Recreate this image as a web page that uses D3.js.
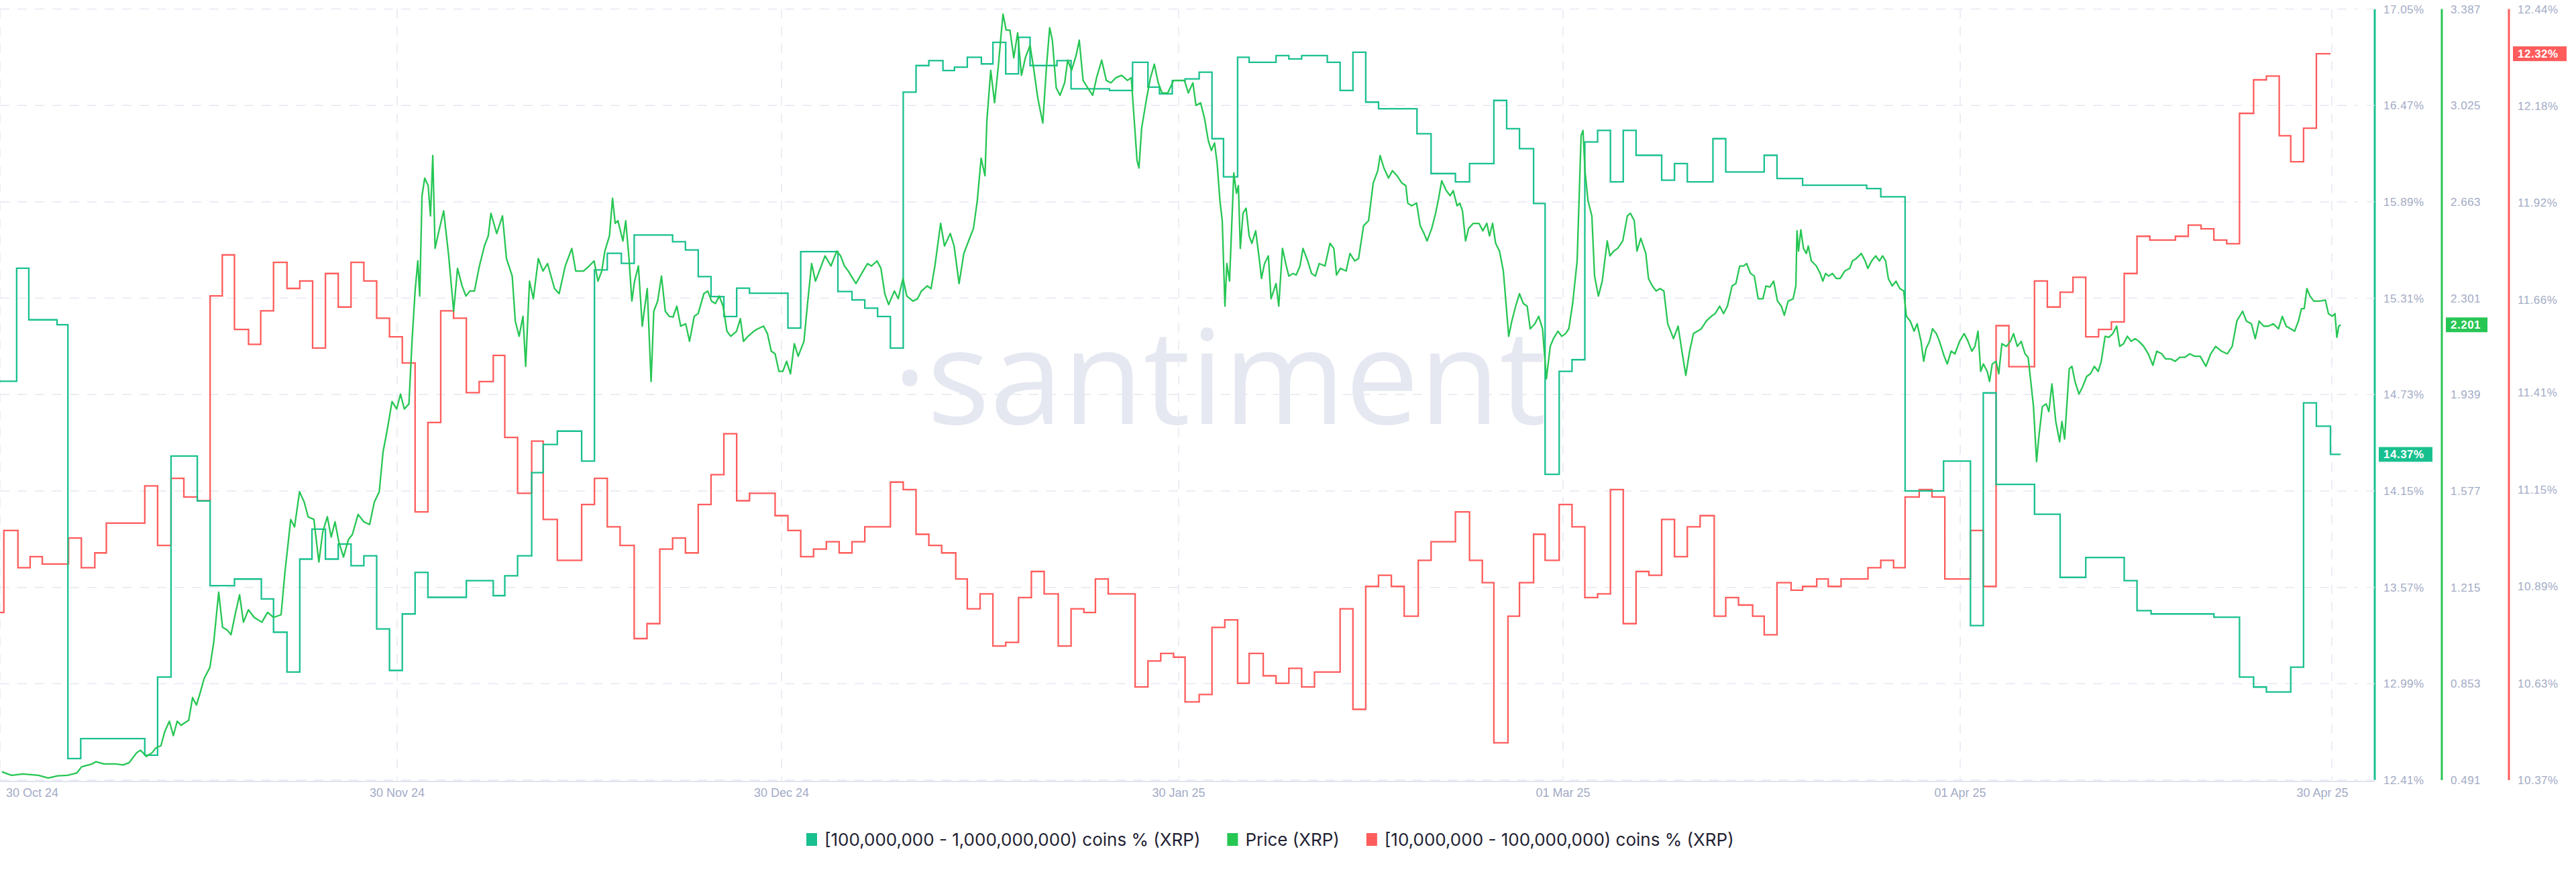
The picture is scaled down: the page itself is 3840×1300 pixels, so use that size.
<!DOCTYPE html>
<html><head><meta charset="utf-8">
<script src="https://cdn.jsdelivr.net/npm/d3@7/dist/d3.min.js"></script>
<style>body{margin:0;background:#fff}svg{display:block}</style>
</head><body><svg id="c" width="3840" height="1300"></svg>
<script>
const startDate = "2024-10-30";
const tickDates = ["2024-10-30","2024-11-30","2024-12-30","2025-01-30","2025-03-01","2025-04-01","2025-04-30"];
const tickLabels = ["30 Oct 24","30 Nov 24","30 Dec 24","30 Jan 25","01 Mar 25","01 Apr 25","30 Apr 25"];
const tealTicks = [12.41,12.99,13.57,14.15,14.73,15.31,15.89,16.47,17.05];
const priceTicks = [0.491,0.853,1.215,1.577,1.939,2.301,2.663,3.025,3.387];
const redTicks = [10.37,10.63,10.89,11.15,11.41,11.66,11.92,12.18,12.44];
const seriesNames = ["[100,000,000 - 1,000,000,000) coins % (XRP)","Price (XRP)","[10,000,000 - 100,000,000) coins % (XRP)"];

// day offsets from startDate, value
const tealDays = [0,1.3,2.25,4.45,5.3,6.3,11.3,12.3,13.35,15.4,16.4,18.3,20.4,21.35,22.4,23.4,24.35,25.4,26.4,27.4,28.4,29.4,30.4,31.4,32.4,33.4,36.4,38.5,39.4,40.4,41.5,42.4,43.5,45.4,46.4,47.4,48.5,49.5,52.5,53.5,54.5,55.5,56.5,57.5,58.5,61.5,62.5,65.4,66.5,67.5,68.5,69.5,70.5,71.5,72.5,73.6,74.5,75.5,76.6,77.5,78.5,79.5,80.4,82.5,83.6,86.6,88.4,89.6,90.5,91.5,92.5,93.6,94.6,95.5,96.6,97.5,99.6,100.6,101.6,103.6,104.6,105.6,106.6,107.6,110.6,111.7,113.6,114.7,116.6,117.6,118.6,119.7,120.6,121.7,122.7,123.7,124.7,125.7,126.7,127.7,129.7,130.7,131.7,133.7,134.7,137.7,138.7,140.7,145.7,146.8,148.7,151.7,153.8,154.8,155.8,158.8,160.8,162.8,165.8,166.8,167.9,172.8,174.8,175.9,176.9,178.8,179.8,180.8,181.9,182.7];
const tealVals = [14.81,15.49,15.18,15.15,12.54,12.66,12.56,13.03,14.36,14.09,13.58,13.62,13.50,13.30,13.06,13.74,13.92,13.74,13.83,13.70,13.76,13.32,13.07,13.41,13.66,13.51,13.61,13.52,13.64,13.76,14.26,14.43,14.51,14.33,15.48,15.58,15.52,15.69,15.65,15.60,15.44,15.32,15.20,15.37,15.34,15.13,15.59,15.35,15.30,15.25,15.20,15.01,16.55,16.71,16.74,16.68,16.70,16.76,16.72,16.85,16.66,16.88,16.71,16.74,16.57,16.56,16.73,16.58,16.54,16.62,16.63,16.67,16.27,16.04,16.76,16.73,16.77,16.75,16.77,16.73,16.56,16.79,16.49,16.45,16.30,16.06,16.01,16.12,16.50,16.33,16.21,15.88,14.25,14.87,14.94,16.25,16.32,16.01,16.32,16.17,16.02,16.12,16.01,16.27,16.07,16.17,16.03,15.99,15.97,15.92,14.15,14.33,13.34,14.74,14.19,14.01,13.63,13.75,13.61,13.43,13.41,13.39,13.03,12.97,12.94,13.09,14.68,14.54,14.37,14.37];

const redDays = [0,0.3,1.4,2.35,3.3,5.35,6.35,7.4,8.3,9.3,10.4,11.3,12.3,13.35,14.35,15.4,16.4,17.35,18.3,19.4,20.35,21.35,22.4,23.4,24.4,25.4,26.4,27.4,28.4,29.4,30.4,31.4,32.4,33.4,34.4,35.4,36.4,37.4,38.5,39.4,40.4,41.5,42.4,43.5,45.4,46.4,47.4,48.4,49.5,50.5,51.5,52.5,53.5,54.5,55.5,56.5,57.5,58.5,60.5,61.5,62.5,63.5,64.5,65.5,66.5,67.5,69.5,70.5,71.5,72.5,73.5,74.6,75.5,76.5,77.5,78.5,79.5,80.5,81.5,82.6,83.6,84.6,85.5,86.5,88.6,89.6,90.6,91.6,92.5,93.6,94.6,95.6,96.6,97.5,98.6,99.6,100.6,101.6,102.6,104.6,105.6,106.6,107.6,108.6,109.6,110.7,111.7,113.6,114.7,115.7,116.6,117.7,118.6,119.7,120.6,121.7,122.7,123.7,124.7,125.7,126.7,127.7,128.7,129.7,130.7,131.7,132.7,133.8,134.7,135.7,136.8,137.7,138.7,139.8,140.7,141.8,142.7,143.7,144.8,145.8,146.8,147.8,148.7,149.8,150.8,151.8,153.8,154.8,155.8,156.8,158.8,159.8,160.8,161.8,162.8,163.8,164.8,165.8,166.8,167.8,169.8,170.8,171.8,172.8,173.8,174.8,175.9,176.9,177.9,178.8,179.8,180.8,181.9,182.7];
const redVals = [10.82,11.04,10.94,10.97,10.95,11.02,10.94,10.98,11.06,11.06,11.06,11.16,11.00,11.18,11.13,11.12,11.67,11.78,11.58,11.54,11.63,11.76,11.69,11.71,11.53,11.73,11.64,11.76,11.71,11.61,11.56,11.49,11.09,11.33,11.63,11.61,11.41,11.44,11.51,11.29,11.14,11.28,11.07,10.96,11.11,11.18,11.05,11.00,10.75,10.79,10.99,11.02,10.98,11.11,11.19,11.30,11.12,11.14,11.08,11.04,10.97,10.99,11.01,10.98,11.01,11.05,11.17,11.15,11.03,11.00,10.98,10.91,10.83,10.87,10.73,10.74,10.86,10.93,10.87,10.73,10.83,10.82,10.91,10.87,10.62,10.69,10.71,10.70,10.58,10.60,10.78,10.80,10.63,10.71,10.65,10.63,10.67,10.62,10.66,10.83,10.56,10.89,10.92,10.89,10.81,10.96,11.01,11.09,10.96,10.90,10.47,10.81,10.90,11.03,10.96,11.11,11.05,10.86,10.87,11.15,10.79,10.93,10.92,11.07,10.97,11.05,11.08,10.81,10.86,10.84,10.81,10.76,10.90,10.88,10.89,10.91,10.89,10.91,10.91,10.94,10.96,10.94,11.13,11.15,11.13,10.91,11.04,10.89,11.59,11.48,11.71,11.64,11.68,11.72,11.56,11.58,11.60,11.73,11.83,11.82,11.83,11.86,11.85,11.82,11.81,12.16,12.25,12.26,12.10,12.03,12.12,12.32,12.32];

const priceDays = [0.15,0.9,1.8,3.0,3.76,4.5,5.26,6.0,6.37,7.2,7.5,8.1,9.0,9.6,10.07,10.67,10.97,11.42,11.87,12.17,12.56,12.86,13.22,13.53,13.83,14.13,14.73,15.03,15.33,15.63,15.93,16.38,16.68,17.07,17.37,17.73,18.03,18.39,18.7,19.0,19.39,19.84,20.44,20.89,21.34,21.94,22.24,22.48,22.69,22.99,23.38,23.74,24.05,24.5,24.89,25.19,25.55,25.85,26.15,26.45,26.81,27.2,27.5,27.95,28.4,28.85,29.22,29.6,29.9,30.2,30.6,30.96,31.26,31.56,31.92,32.16,32.4,32.61,32.76,32.94,33.15,33.42,33.6,33.78,33.96,34.26,34.63,35.02,35.41,35.71,36.07,36.37,36.67,37.03,37.42,37.81,38.11,38.32,38.77,39.22,39.53,39.98,40.22,40.52,40.82,41.03,41.33,41.63,42.02,42.38,42.74,43.28,43.64,44.12,44.63,44.94,45.54,45.99,46.37,46.67,46.97,47.21,47.57,47.81,48.02,48.23,48.62,48.84,49.08,49.32,49.53,49.83,50.13,50.28,50.52,50.82,51.03,51.33,51.63,51.93,52.23,52.53,52.83,53.13,53.52,53.82,54.19,54.49,54.94,55.24,55.54,55.84,56.14,56.44,56.74,57.04,57.49,57.79,58.03,58.39,58.84,59.14,59.6,59.9,60.2,60.5,60.8,61.1,61.4,61.7,62.0,62.3,62.75,63.05,63.35,63.65,63.95,64.4,64.86,65.31,65.61,65.91,66.21,66.81,67.26,67.71,68.01,68.46,68.76,69.06,69.36,69.81,70.11,70.48,70.78,71.26,71.62,71.92,72.37,72.67,72.97,73.42,73.72,74.17,74.47,74.86,75.23,75.68,75.98,76.28,76.58,76.88,77.03,77.33,77.63,77.93,78.17,78.29,78.53,78.83,79.13,79.43,79.73,80.03,80.4,80.7,81.0,81.39,81.69,81.93,82.14,82.44,82.74,83.1,83.34,83.64,84.0,84.24,84.54,84.9,85.29,85.59,85.99,86.35,86.71,87.1,87.55,88.0,88.3,88.45,88.75,88.9,89.11,89.5,89.8,90.1,90.4,90.7,91.15,91.6,92.06,92.45,92.75,93.11,93.35,93.71,94.01,94.31,94.55,94.8,95.0,95.22,95.4,95.61,95.76,95.97,96.3,96.51,96.66,96.81,97.02,97.26,97.5,97.71,98.01,98.31,98.46,98.7,99.0,99.21,99.6,99.81,100.1,100.4,100.6,100.93,101.17,101.47,101.7,102.07,102.37,102.67,102.97,103.42,103.81,104.11,104.32,104.62,105.07,105.37,105.74,106.04,106.43,106.82,107.18,107.54,107.72,108.02,108.38,108.68,109.04,109.43,109.73,109.88,110.18,110.57,110.85,111.15,111.39,111.75,112.05,112.29,112.53,112.89,113.19,113.43,113.73,113.94,114.15,114.39,114.63,114.99,115.44,115.74,116.05,116.26,116.5,116.74,117.04,117.34,117.55,117.76,118.0,118.3,118.6,118.9,119.2,119.44,119.8,120.1,120.4,120.7,121.0,121.25,121.6,121.9,122.2,122.45,122.75,123.1,123.41,123.56,123.71,123.95,124.25,124.46,124.76,125.06,125.45,125.66,125.96,126.26,126.66,127.02,127.26,127.56,127.77,128.07,128.46,128.67,128.97,129.27,129.57,129.87,130.17,130.62,130.98,131.28,131.58,131.88,132.18,132.49,132.79,133.18,133.57,133.87,134.23,134.53,134.83,135.19,135.49,135.79,136.09,136.33,136.63,136.93,137.23,137.6,137.84,138.14,138.44,138.74,139.04,139.27,139.57,139.96,140.17,140.26,140.38,140.56,140.77,140.99,141.14,141.38,141.77,142.07,142.28,142.49,142.73,143.03,143.33,143.63,143.99,144.38,144.59,144.89,145.28,145.58,145.79,146.09,146.4,146.7,146.94,147.18,147.39,147.69,147.99,148.29,148.59,148.8,149.1,149.4,149.64,149.94,150.15,150.33,150.6,150.84,151.14,151.38,151.75,151.99,152.29,152.59,152.95,153.31,153.61,153.91,154.15,154.39,154.6,154.81,155.11,155.29,155.5,155.8,156.01,156.25,156.61,156.92,157.16,157.46,157.76,158.06,158.3,158.51,158.72,158.96,159.14,159.41,159.71,159.92,160.16,160.46,160.76,160.94,161.15,161.51,161.72,161.96,162.27,162.57,162.87,163.17,163.47,163.77,164.01,164.31,164.61,164.91,165.21,165.45,165.75,166.05,166.35,166.65,166.95,167.32,167.68,168.04,168.34,168.73,169.03,169.42,169.78,170.14,170.53,170.92,171.28,171.73,172.18,172.55,172.94,173.39,173.84,174.23,174.59,175.04,175.34,175.73,176.03,176.33,176.69,177.05,177.44,177.84,178.14,178.44,178.8,179.1,179.4,179.64,179.85,180.06,180.3,180.6,181.05,181.5,181.74,182.04,182.25,182.4,182.55,182.7];
const priceVals = [0.522,0.509,0.514,0.509,0.499,0.507,0.509,0.518,0.541,0.552,0.560,0.552,0.552,0.548,0.556,0.594,0.603,0.580,0.594,0.612,0.620,0.673,0.712,0.658,0.712,0.697,0.716,0.801,0.773,0.820,0.872,0.914,1.008,1.197,1.065,1.055,1.037,1.121,1.187,1.084,1.131,1.102,1.084,1.121,1.102,1.112,1.272,1.376,1.470,1.442,1.574,1.536,1.480,1.470,1.310,1.423,1.480,1.404,1.461,1.385,1.329,1.395,1.413,1.489,1.461,1.451,1.536,1.574,1.724,1.800,1.913,1.885,1.941,1.885,1.904,2.139,2.328,2.441,2.309,2.686,2.752,2.724,2.610,2.837,2.488,2.554,2.629,2.460,2.252,2.413,2.347,2.309,2.328,2.328,2.422,2.497,2.535,2.620,2.544,2.610,2.450,2.384,2.215,2.158,2.233,2.045,2.365,2.299,2.450,2.403,2.431,2.337,2.318,2.422,2.488,2.403,2.403,2.422,2.441,2.365,2.403,2.478,2.535,2.676,2.582,2.592,2.516,2.592,2.460,2.290,2.365,2.422,2.196,2.252,2.337,1.988,2.252,2.290,2.384,2.252,2.233,2.230,2.271,2.196,2.205,2.139,2.233,2.243,2.318,2.328,2.290,2.281,2.309,2.271,2.177,2.158,2.177,2.224,2.139,2.158,2.177,2.186,2.196,2.168,2.102,2.092,2.026,2.026,2.064,2.017,2.130,2.083,2.139,2.290,2.431,2.365,2.403,2.460,2.422,2.478,2.460,2.422,2.403,2.356,2.394,2.431,2.422,2.441,2.413,2.318,2.277,2.328,2.299,2.375,2.309,2.290,2.299,2.328,2.347,2.337,2.422,2.582,2.497,2.544,2.497,2.356,2.469,2.526,2.563,2.667,2.827,2.761,2.969,3.157,3.035,3.176,3.308,3.368,3.308,3.308,3.204,3.298,3.138,3.204,3.251,3.157,3.053,2.959,3.176,3.317,3.270,3.091,3.063,3.110,3.195,3.157,3.214,3.270,3.119,3.091,3.063,3.129,3.195,3.119,3.110,3.129,3.138,3.119,3.129,3.025,2.818,2.790,2.940,3.053,3.129,3.180,3.110,3.072,3.072,3.119,3.119,3.119,3.072,3.110,3.025,3.035,2.978,2.893,2.856,2.884,2.808,2.667,2.592,2.271,2.431,2.365,2.771,2.695,2.724,2.488,2.620,2.639,2.535,2.507,2.554,2.441,2.375,2.431,2.460,2.299,2.356,2.271,2.488,2.422,2.384,2.394,2.388,2.422,2.488,2.441,2.394,2.384,2.431,2.422,2.507,2.488,2.388,2.413,2.403,2.469,2.441,2.450,2.573,2.592,2.733,2.780,2.837,2.790,2.752,2.780,2.761,2.733,2.724,2.658,2.648,2.658,2.573,2.544,2.516,2.563,2.620,2.676,2.742,2.705,2.686,2.705,2.648,2.658,2.629,2.516,2.563,2.582,2.582,2.554,2.582,2.535,2.582,2.507,2.478,2.403,2.281,2.158,2.215,2.271,2.318,2.281,2.271,2.186,2.205,2.233,2.186,1.998,2.120,2.149,2.177,2.158,2.168,2.186,2.281,2.441,2.912,2.931,2.780,2.667,2.610,2.384,2.309,2.365,2.516,2.460,2.478,2.488,2.516,2.610,2.620,2.592,2.478,2.526,2.469,2.375,2.347,2.328,2.337,2.328,2.205,2.149,2.196,2.102,2.011,2.102,2.168,2.177,2.186,2.215,2.233,2.243,2.271,2.243,2.271,2.347,2.356,2.422,2.422,2.431,2.394,2.384,2.299,2.299,2.347,2.343,2.365,2.290,2.271,2.237,2.290,2.299,2.347,2.554,2.478,2.558,2.488,2.469,2.497,2.441,2.422,2.394,2.365,2.394,2.384,2.394,2.375,2.375,2.403,2.413,2.441,2.450,2.469,2.441,2.413,2.441,2.460,2.441,2.460,2.441,2.375,2.347,2.365,2.337,2.328,2.233,2.215,2.177,2.205,2.139,2.064,2.111,2.139,2.186,2.168,2.139,2.083,2.054,2.102,2.092,2.139,2.168,2.139,2.102,2.120,2.177,2.026,2.054,2.026,1.988,2.054,2.064,2.017,2.130,2.120,2.139,2.168,2.120,2.139,2.092,2.079,1.988,1.894,1.687,1.781,1.894,1.904,1.875,1.979,1.838,1.762,1.838,1.772,2.036,2.045,1.988,1.941,1.970,2.007,2.017,2.045,2.026,2.064,2.158,2.154,2.168,2.196,2.120,2.130,2.158,2.139,2.149,2.139,2.120,2.092,2.049,2.102,2.092,2.073,2.073,2.064,2.079,2.079,2.092,2.083,2.083,2.045,2.092,2.120,2.102,2.092,2.120,2.215,2.252,2.215,2.205,2.149,2.215,2.196,2.196,2.205,2.186,2.233,2.196,2.186,2.177,2.215,2.262,2.262,2.337,2.309,2.290,2.290,2.294,2.243,2.233,2.243,2.154,2.196,2.201];

const TEAL = "#19c08f", PRICE = "#26c653", RED = "#ff5c5c";
const GRID = "#e6e8f2", TICK = "#a3abc6";

const svg = d3.select("#c");
const yTop = 13.5, yBot = 1163;
const t0 = new Date(startDate + "T00:00:00Z");
const toDate = d => new Date(t0.getTime() + d * 864e5);
const x = d3.scaleUtc().domain([t0, toDate(183)]).range([0, 3495]);
const yTeal = d3.scaleLinear().domain([tealTicks[0], tealTicks[tealTicks.length-1]]).range([yBot, yTop]);
const yPrice = d3.scaleLinear().domain([priceTicks[0], priceTicks[priceTicks.length-1]]).range([yBot, yTop]);
const yRed = d3.scaleLinear().domain([redTicks[0], redTicks[redTicks.length-1]]).range([yBot, yTop]);
const pairs = (days, vals) => d3.range(Math.min(days.length, vals.length)).map(i => [toDate(days[i]), vals[i]]);

svg.append("text").attr("x", 1818).attr("y", 632).attr("text-anchor", "middle")
  .attr("font-family", "Open Sans, sans-serif").attr("font-size", 196).attr("fill", "#e6e8f1")
  .text("·santiment");

svg.append("g").selectAll("line").data(tealTicks).join("line")
  .attr("x1", 0).attr("x2", 3515).attr("y1", d => yTeal(d)).attr("y2", d => yTeal(d))
  .attr("stroke", GRID).attr("stroke-width", 1.5).attr("stroke-dasharray", "14,12");
svg.append("g").selectAll("line").data(tickDates).join("line")
  .attr("x1", d => x(new Date(d + "T00:00:00Z"))).attr("x2", d => x(new Date(d + "T00:00:00Z")))
  .attr("y1", yTop).attr("y2", yBot).attr("stroke", GRID).attr("stroke-width", 1.5).attr("stroke-dasharray", "14,12");
svg.append("line").attr("x1", 0).attr("x2", 3540).attr("y1", yBot + 2).attr("y2", yBot + 2)
  .attr("stroke", "#e1e4ee").attr("stroke-width", 2);
svg.append("g").selectAll("text").data(tickDates).join("text")
  .attr("x", (d, i) => { const px = x(new Date(d + "T00:00:00Z")); return i === 0 ? 9 : Math.min(px, 3462); })
  .attr("y", 1188).attr("text-anchor", (d, i) => i === 0 ? "start" : "middle")
  .attr("font-family", "Liberation Sans, sans-serif").attr("font-size", 18)
  .attr("fill", TICK).text((d, i) => tickLabels[i]);

const mk = (ys, curve) => d3.line().curve(curve).x(d => x(d[0])).y(d => ys(d[1]));
svg.append("path").attr("d", mk(yRed, d3.curveStepAfter)(pairs(redDays, redVals))).attr("fill", "none").attr("stroke", RED).attr("stroke-width", 2.3);
svg.append("path").attr("d", mk(yTeal, d3.curveStepAfter)(pairs(tealDays, tealVals))).attr("fill", "none").attr("stroke", TEAL).attr("stroke-width", 2.3);
svg.append("path").attr("d", mk(yPrice, d3.curveLinear)(pairs(priceDays, priceVals)))
  .attr("fill", "none").attr("stroke", PRICE).attr("stroke-width", 2.3).attr("stroke-linejoin", "round");

const axes = [
  {x: 3540, ticks: tealTicks, s: yTeal, c: TEAL, f: v => v.toFixed(2) + "%", last: tealVals[tealVals.length-1]},
  {x: 3640, ticks: priceTicks, s: yPrice, c: PRICE, f: v => v.toFixed(3), last: priceVals[priceVals.length-1]},
  {x: 3740, ticks: redTicks, s: yRed, c: RED, f: v => v.toFixed(2) + "%", last: redVals[redVals.length-1]}
];
axes.forEach((a, k) => {
  const g = svg.append("g");
  g.append("line").attr("x1", a.x).attr("x2", a.x).attr("y1", yTop).attr("y2", yBot).attr("stroke", a.c).attr("stroke-width", 3);
  if (k === 0) g.selectAll("line.t").data(a.ticks).join("line").attr("class", "t")
    .attr("x1", a.x - 12).attr("x2", a.x).attr("y1", d => a.s(d)).attr("y2", d => a.s(d)).attr("stroke", GRID).attr("stroke-width", 1.5);
  g.selectAll("text").data(a.ticks).join("text")
    .attr("x", a.x + 13).attr("y", d => a.s(d) + 6)
    .attr("font-family", "Liberation Sans, sans-serif").attr("font-size", 17).attr("fill", TICK)
    .attr("letter-spacing", 0.5).text(a.f);
  const by = a.s(a.last);
  g.append("rect").attr("x", a.x + 6).attr("y", by - 11).attr("width", k === 1 ? 62 : 80).attr("height", 22).attr("fill", a.c);
  g.append("text").attr("x", a.x + 13).attr("y", by + 6).attr("font-family", "Liberation Sans, sans-serif")
    .attr("font-size", 17).attr("font-weight", "bold").attr("fill", "#fff").attr("letter-spacing", 0.5).text(a.f(a.last));
});

const leg = svg.append("g").attr("font-family", "Inter, sans-serif").attr("font-size", 26).attr("fill", "#1f2233");
const colors = [TEAL, PRICE, RED];
let lx = 1202;
seriesNames.forEach((n, i) => {
  leg.append("rect").attr("x", lx).attr("y", 1242).attr("width", 16).attr("height", 19).attr("fill", colors[i]);
  const t = leg.append("text").attr("x", lx + 27).attr("y", 1261).text(n);
  lx += 27 + t.node().getComputedTextLength() + 40;
});
</script></body></html>
